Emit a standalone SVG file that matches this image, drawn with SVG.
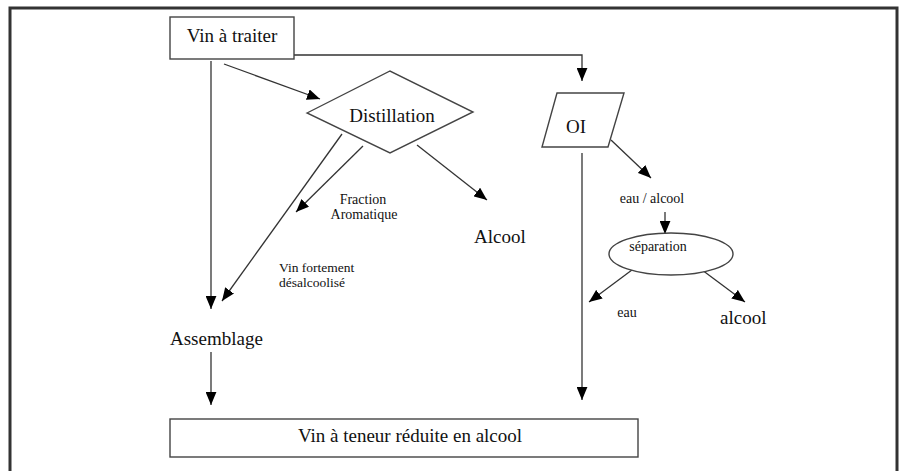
<svg xmlns="http://www.w3.org/2000/svg" width="901" height="471" viewBox="0 0 901 471">
<style>
.ln{stroke:#333;stroke-width:1.3;fill:none}
.shape{stroke:#444;stroke-width:1.4;fill:#fff}
.t{font-family:"Liberation Serif","Times New Roman",serif;fill:#111}
.big{font-size:19px}
.small{font-size:14px}
.sm2{font-size:13.5px}
</style>
<defs>
<marker id="ah" viewBox="0 0 12 10" refX="12" refY="5" markerWidth="13" markerHeight="11" markerUnits="userSpaceOnUse" orient="auto">
<path d="M0,0 L12,5 L0,10 Z" fill="#000"/>
</marker>
</defs>
<rect x="10" y="8" width="887" height="480" fill="#fff" stroke="#333" stroke-width="3"/>
<g id="connectors">
<polyline class="ln" points="294,55 582,55 582,81" marker-end="url(#ah)"/>
<line class="ln" x1="211" y1="61" x2="211" y2="309" marker-end="url(#ah)"/>
<line class="ln" x1="224" y1="64" x2="320" y2="99" marker-end="url(#ah)"/>
<line class="ln" x1="342" y1="134" x2="222" y2="301" marker-end="url(#ah)"/>
<line class="ln" x1="363" y1="146" x2="296" y2="212" marker-end="url(#ah)"/>
<line class="ln" x1="417" y1="145" x2="487" y2="200" marker-end="url(#ah)"/>
<line class="ln" x1="211" y1="352" x2="211" y2="405" marker-end="url(#ah)"/>
<line class="ln" x1="582" y1="153" x2="582" y2="400" marker-end="url(#ah)"/>
<line class="ln" x1="611" y1="140" x2="651" y2="178" marker-end="url(#ah)"/>
<line class="ln" x1="665" y1="212" x2="665" y2="234" marker-end="url(#ah)"/>
<line class="ln" x1="644" y1="261" x2="589" y2="302" marker-end="url(#ah)"/>
<line class="ln" x1="690" y1="261" x2="745" y2="302" marker-end="url(#ah)"/>
</g>
<g id="vin-a-traiter">
<rect class="shape" x="170" y="17" width="124" height="42"/>
<text class="t big" x="232" y="42" text-anchor="middle">Vin à traiter</text>
</g>
<g id="distillation">
<polygon class="shape" points="307,113 390,71 473,112 390,153"/>
<text class="t big" x="392" y="122" text-anchor="middle">Distillation</text>
</g>
<g id="fraction-aromatique">
<text class="t small" x="363" y="204" text-anchor="middle">Fraction</text>
<text class="t small" x="364" y="219" text-anchor="middle">Aromatique</text>
</g>
<g id="alcool-distill">
<text class="t big" x="474" y="243">Alcool</text>
</g>
<g id="vin-fortement">
<text class="t sm2" x="279" y="272">Vin fortement</text>
<text class="t sm2" x="279" y="287">désalcoolisé</text>
</g>
<g id="assemblage">
<text class="t big" x="170" y="345">Assemblage</text>
</g>
<g id="vin-reduit">
<rect class="shape" x="170" y="419" width="468" height="38"/>
<text class="t big" x="410" y="442" text-anchor="middle">Vin à teneur réduite en alcool</text>
</g>
<g id="oi">
<polygon class="shape" points="557,93 624,93 608,147 542,147"/>
<text class="t big" x="576" y="133" text-anchor="middle">OI</text>
</g>
<g id="eau-alcool">
<text class="t small" x="652" y="203" text-anchor="middle">eau / alcool</text>
</g>
<g id="separation">
<ellipse class="shape" cx="671" cy="254" rx="62" ry="21" fill="none"/>
<text class="t small" x="658" y="251" text-anchor="middle">séparation</text>
</g>
<g id="eau">
<text class="t small" x="627" y="317" text-anchor="middle">eau</text>
</g>
<g id="alcool-sep">
<text class="t big" x="720" y="324">alcool</text>
</g>
</svg>
